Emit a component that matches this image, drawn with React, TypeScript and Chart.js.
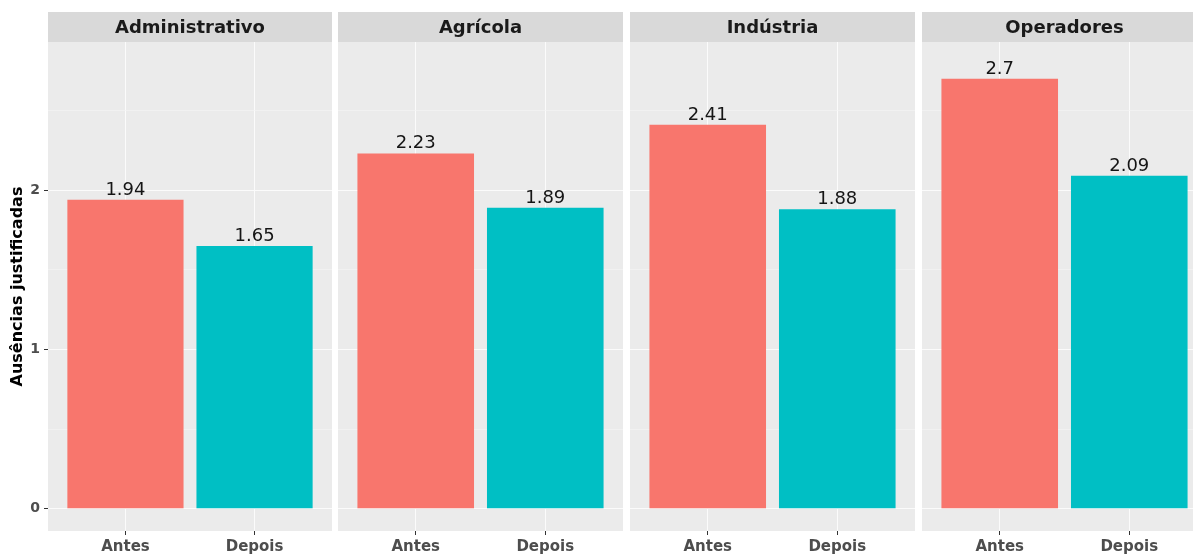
import { useEffect, useRef } from "react";
import { Chart, registerables } from "chart.js";
Chart.register(...registerables);

const facets = ["Administrativo", "Agrícola", "Indústria", "Operadores"];
const periods = ["Antes", "Depois"];
const antes = [1.94, 2.23, 2.41, 2.7];
const depois = [1.65, 1.89, 1.88, 2.09];
const yMajorTicks = [0, 1, 2];
const yMinorTicks = [0.5, 1.5, 2.5];
const yTitle = "Ausências justificadas";

const COLORS = ["#F8766D", "#00BFC4"];
const PANEL_LEFTS = [48, 338, 630, 922];
const PANEL_WIDTHS = [284, 285, 285, 285];
const STRIP_TOP = 12;
const PANEL_TOP = 42;
const PANEL_BOTTOM = 531;
const H = 557;
const FONT = "'DejaVu Sans', 'Liberation Sans', Arial, sans-serif";

function makeConfig(i: number): any {
  const first = i === 0;
  const isMajor = (v: number) => yMajorTicks.includes(v);
  const facetPlugin = {
    id: "facet" + i,
    beforeDraw(chart: any) {
      const { ctx, chartArea } = chart;
      ctx.save();
      ctx.fillStyle = "#ebebeb";
      ctx.fillRect(chartArea.left, chartArea.top, chartArea.right - chartArea.left, chartArea.bottom - chartArea.top);
      ctx.fillStyle = "#d9d9d9";
      ctx.fillRect(chartArea.left, STRIP_TOP, chartArea.right - chartArea.left, PANEL_TOP - STRIP_TOP);
      ctx.fillStyle = "#1a1a1a";
      ctx.font = "bold 18px " + FONT;
      ctx.textAlign = "center";
      ctx.textBaseline = "middle";
      ctx.fillText(facets[i], (chartArea.left + chartArea.right) / 2, (STRIP_TOP + PANEL_TOP) / 2 + 1);
      ctx.restore();
    },
    afterDatasetsDraw(chart: any) {
      const { ctx } = chart;
      const meta = chart.getDatasetMeta(0);
      const vals = [antes[i], depois[i]];
      ctx.save();
      ctx.fillStyle = "#151515";
      ctx.font = "18px " + FONT;
      ctx.textAlign = "center";
      ctx.textBaseline = "alphabetic";
      meta.data.forEach((el: any, k: number) => {
        ctx.fillText(String(vals[k]), el.x, el.y - 5);
      });
      ctx.restore();
    },
  };

  return {
    type: "bar",
    data: {
      datasets: [
        {
          data: [
            { x: 1, y: antes[i] },
            { x: 2, y: depois[i] },
          ],
          backgroundColor: COLORS,
          borderWidth: 0,
          categoryPercentage: 0.9,
          barPercentage: 1,
        },
      ],
    },
    options: {
      responsive: false,
      animation: false,
      devicePixelRatio: 1,
      layout: { padding: { top: PANEL_TOP, left: 0, right: 0, bottom: 0 } },
      plugins: {
        legend: { display: false },
        tooltip: { enabled: false },
        title: { display: false },
      },
      scales: {
        x: {
          type: "linear",
          min: 0.4,
          max: 2.6,
          offset: false,
          afterBuildTicks: (s: any) => {
            s.ticks = periods.map((_, k) => ({ value: k + 1 }));
          },
          afterFit: (s: any) => {
            s.height = H - PANEL_BOTTOM;
          },
          ticks: {
            callback: (v: number) => periods[Math.round(v) - 1] ?? "",
            font: { family: FONT, size: 15, weight: "bold" },
            color: "#4d4d4d",
            padding: 3,
            maxRotation: 0,
            autoSkip: false,
          },
          grid: {
            offset: false,
            color: "#fbfbfb",
            lineWidth: 1,
            tickColor: "#333333",
            tickLength: 4,
          },
          border: { display: false },
        },
        y: {
          type: "linear",
          min: -0.14,
          max: 2.93,
          afterBuildTicks: (s: any) => {
            s.ticks = [...yMajorTicks, ...yMinorTicks].sort((a, b) => a - b).map((v) => ({ value: v }));
          },
          afterFit: (s: any) => {
            s.width = first ? PANEL_LEFTS[0] : 0;
          },
          ticks: {
            display: first,
            callback: (v: number) => (isMajor(v) ? String(v) : ""),
            font: { family: FONT, size: 14, weight: "bold" },
            color: "#4d4d4d",
            padding: 4,
          },
          grid: {
            color: (c: any) => (isMajor(c.tick.value) ? "#fbfbfb" : "#f4f4f4"),
            lineWidth: (c: any) => (isMajor(c.tick.value) ? 1 : 0.7),
            tickColor: (c: any) => (isMajor(c.tick.value) ? "#333333" : "rgba(0,0,0,0)"),
            tickLength: 4,
            drawTicks: first,
          },
          border: { display: false },
          title: {
            display: first,
            text: yTitle,
            font: { family: FONT, size: 16, weight: "bold" },
            color: "#000000",
            padding: { top: 8, bottom: 0 },
          },
        },
      },
    },
    plugins: [facetPlugin],
  };
}

function Panel({ i }: { i: number }) {
  const ref = useRef<HTMLCanvasElement | null>(null);
  useEffect(() => {
    if (!ref.current) return;
    const chart = new Chart(ref.current, makeConfig(i));
    return () => chart.destroy();
  }, [i]);
  const first = i === 0;
  const left = first ? 0 : PANEL_LEFTS[i];
  const width = first ? PANEL_LEFTS[0] + PANEL_WIDTHS[0] : PANEL_WIDTHS[i];
  return (
    <canvas
      ref={ref}
      width={width}
      height={H}
      style={{ position: "absolute", left, top: 0, width, height: H }}
    />
  );
}

export default function App() {
  return (
    <div
      style={{
        position: "fixed",
        left: 0,
        top: 0,
        width: 1193,
        height: H,
        overflow: "hidden",
        background: "#ffffff",
      }}
    >
      {facets.map((_, i) => (
        <Panel key={i} i={i} />
      ))}
    </div>
  );
}
